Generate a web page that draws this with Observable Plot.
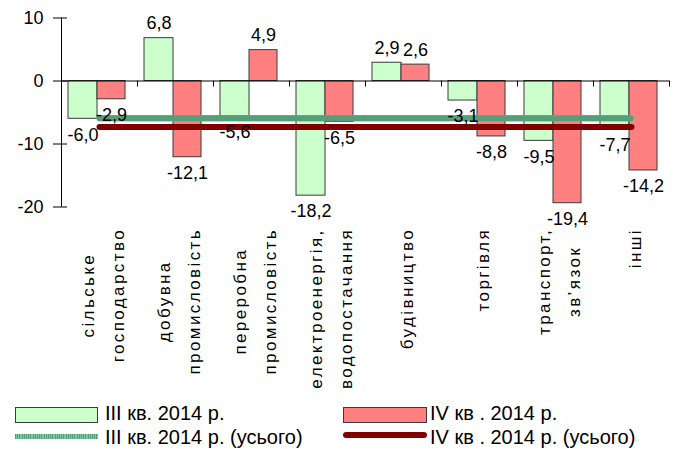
<!DOCTYPE html>
<html>
<head>
<meta charset="utf-8">
<script src="https://cdn.jsdelivr.net/npm/d3@7"></script>
<script src="https://cdn.jsdelivr.net/npm/@observablehq/plot@0.6"></script>
<style>
  body { margin: 0; background: #fff; font-family: Arial, "Liberation Sans", sans-serif; }
  #wrap { position: relative; width: 676px; height: 449px; overflow: hidden; }
  #chart svg { display: block; font-family: Arial, "Liberation Sans", sans-serif; }
  .leg { position: absolute; font-size: 20px; line-height: 20px; color: #000; white-space: nowrap; }
  .sw { position: absolute; box-sizing: border-box; }
</style>
</head>
<body>
<div id="wrap">
  <div id="chart"></div>
</div>
<script>
// ---- data ----
const categories = [
  "сільське\nгосподарство",
  "добувна\nпромисловість",
  "переробна\nпромисловість",
  "електроенергія,\nводопостачання",
  "будівництво",
  "торгівля",
  "транспорт,\nзв’язок",
  "інші"
];
const q3Values = [-6.0, 6.8, -5.6, -18.2, 2.9, -3.1, -9.5, -7.7];
const q4Values = [-2.9, -12.1, 4.9, -6.5, 2.6, -8.8, -19.4, -14.2];
const q3Total = -5.9;
const q4Total = -7.3;
const yTicks = [-20, -10, 0, 10];
const yDomain = [-20, 10];
const seriesNames = ["III кв. 2014 р.", "IV кв . 2014 р.", "III кв. 2014 р. (усього)", "IV кв . 2014 р. (усього)"];

// ---- layout / style ----
const W = 676, H = 400;
const mL = 61, mR = 7, mT = 17.5, mB = 193.5;
const bw = (W - mL - mR) / categories.length;
const green = "#ccffcc", red = "#ff8080", edge = "#3a3a3a";
const lineGreenLight = "#80c6a2", lineGreenDark = "#529f7a", lineRed = "#800000";
const gInsL = 7, gInsR = bw - 36, rInsL = 36, rInsR = 12;
const gDx = (gInsL + (bw - gInsR)) / 2 - bw / 2;
const rDx = (rInsL + (bw - rInsR)) / 2 - bw / 2;

const rows3 = categories.map((c, i) => ({cat: c, value: q3Values[i]}));
const rows4 = categories.map((c, i) => ({cat: c, value: q4Values[i]}));
const fmt = v => v.toFixed(1).replace(".", ",");

const labelMarks = [];
for (const [rows, dx] of [[rows3, gDx], [rows4, rDx]]) {
  labelMarks.push(Plot.text(rows.filter(d => d.value < 0), {x: "cat", y: "value", text: d => fmt(d.value), dx, dy: 9, lineAnchor: "top", fontSize: 18, fill: "#000"}));
  labelMarks.push(Plot.text(rows.filter(d => d.value >= 0), {x: "cat", y: "value", text: d => fmt(d.value), dx, dy: -9, lineAnchor: "bottom", fontSize: 18, fill: "#000"}));
}

const chart = Plot.plot({
  width: W, height: H,
  marginLeft: mL, marginRight: mR, marginTop: mT, marginBottom: mB,
  x: {domain: categories, padding: 0},
  y: {domain: yDomain},
  marks: [
    Plot.barY(rows3, {x: "cat", y: "value", fill: green, stroke: edge, strokeWidth: 1, insetLeft: gInsL, insetRight: gInsR}),
    Plot.barY(rows4, {x: "cat", y: "value", fill: red, stroke: edge, strokeWidth: 1, insetLeft: rInsL, insetRight: rInsR}),
    Plot.ruleY([0], {stroke: "#000", strokeWidth: 1}),
    Plot.ruleX([categories[0]], {dx: -bw / 2, y1: yDomain[0], y2: yDomain[1], stroke: "#000"}),
    Plot.ruleY(yTicks, {stroke: "#000", insetLeft: -8, insetRight: W - mL - mR - 6}),
    Plot.ruleX(categories, {dx: -bw / 2, y1: 0, y2: 0, insetBottom: -6, stroke: "#000"}),
    Plot.ruleX([categories[categories.length - 1]], {dx: bw / 2, y1: 0, y2: 0, insetBottom: -6, stroke: "#000"}),
    Plot.lineY(categories, {x: d => d, y: () => q3Total, stroke: lineGreenLight, strokeWidth: 6}),
    Plot.lineY(categories, {x: d => d, y: () => q3Total, stroke: lineGreenDark, strokeWidth: 6, strokeDasharray: "1,1.2"}),
    Plot.lineY(categories, {x: d => d, y: () => q4Total, stroke: lineRed, strokeWidth: 6, strokeLinecap: "round"}),
    ...labelMarks,
    Plot.axisY({ticks: yTicks, tickSize: 0, tickPadding: 18, fontSize: 18, label: null, tickFormat: d => String(d)}),
    Plot.axisX({tickSize: 0, tickRotate: -90, tickPadding: 21, fontSize: 17, lineHeight: 1.75, label: null})
  ]
});
document.getElementById("chart").appendChild(chart);
const wrap = document.getElementById("wrap");

// category labels: Excel-like letter spacing, lines centred on each other, block top-aligned
const firstLines = new Set(categories.map(c => c.split("\n")[0]));
chart.querySelectorAll("text").forEach(t => {
  const spans = [...t.querySelectorAll("tspan")];
  const lines = spans.length ? spans.map(s => s.textContent) : [t.textContent];
  if (!firstLines.has(lines[0])) return;
  t.style.letterSpacing = "2.4px";
  t.style.fontSize = "17px";
  if (spans.length >= 2) {
    const lens = spans.map(s => s.getComputedTextLength());
    const L = Math.max(...lens);
    const tr = t.getAttribute("transform") || "";
    const m = tr.match(/translate\(([-\d.e]+)[ ,]+([-\d.e]+)\)/);
    if (m) {
      t.setAttribute("text-anchor", "middle");
      t.style.textAnchor = "middle";
      const rest = tr.replace(m[0], "");
      t.setAttribute("transform", `translate(${m[1]},${+m[2] + L / 2})${rest}`);
    }
  }
});

// ---- legend ----
function add(text, style, cls) {
  const d = document.createElement("div");
  d.className = cls; d.style.cssText = style; d.textContent = text; wrap.appendChild(d);
}
add("", `left:15px;top:407px;width:83px;height:16px;background:${green};border:1px solid ${edge};`, "sw");
add(seriesNames[0], "left:105px;top:403px;", "leg");
add("", `left:343px;top:407px;width:84px;height:16px;background:${red};border:1px solid ${edge};`, "sw");
add(seriesNames[1], "left:430px;top:403px;", "leg");
add("", `left:15px;top:434px;width:83px;height:5px;background:repeating-linear-gradient(90deg,${lineGreenDark} 0 1px,${lineGreenLight} 1px 2.2px);`, "sw");
add(seriesNames[2], "left:105px;top:427px;", "leg");
add("", `left:343px;top:432px;width:84px;height:6px;background:${lineRed};border-radius:3px;`, "sw");
add(seriesNames[3], "left:430px;top:427px;", "leg");
</script>
</body>
</html>
